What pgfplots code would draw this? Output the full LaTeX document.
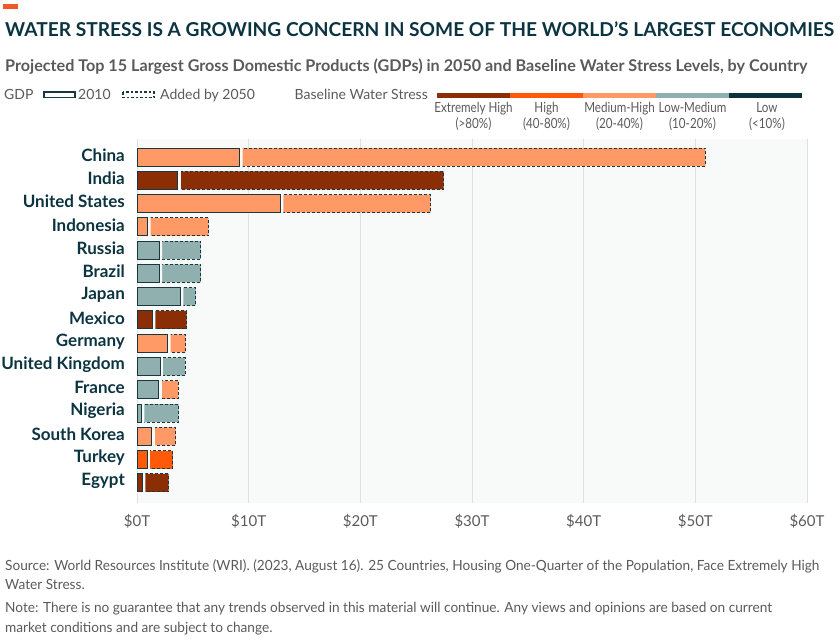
\documentclass[border=0pt]{standalone}
\usepackage{pgfplots}
\pgfplotsset{compat=1.18}
\usepackage{fontspec}
\setmainfont{Lato}
\definecolor{cEH}{HTML}{8B2E06}
\definecolor{cH}{HTML}{FF5A0A}
\definecolor{cMH}{HTML}{FF9966}
\definecolor{cLM}{HTML}{8FB0AE}
\definecolor{cL}{HTML}{0C323C}
\definecolor{outl}{HTML}{17383F}
\definecolor{bgc}{HTML}{F8FAFA}
\definecolor{titlec}{HTML}{0B3440}
\definecolor{greyt}{HTML}{5A5A5A}
\definecolor{orangec}{HTML}{F05A28}
\begin{document}
\begin{tikzpicture}[x=1pt,y=1pt]
\useasboundingbox (0,0) rectangle (840,-642);
\fill[orangec] (3,-4) rectangle (18,-9);
\node[anchor=base west, inner sep=0pt, text=titlec] at (5,-37) {\resizebox{829pt}{!}{\bfseries WATER STRESS IS A GROWING CONCERN IN SOME OF THE WORLD'S LARGEST ECONOMIES}};
\node[anchor=base west, inner sep=0pt, text=greyt] at (5,-72) {\resizebox{802pt}{!}{\bfseries Projected Top 15 Largest Gross Domestic Products (GDPs) in 2050 and Baseline Water Stress Levels, by Country}};
% legend GDP
\begin{scope}[every node/.style={inner sep=0pt, text=greyt, font=\fontsize{14}{16}\selectfont}]
\node[anchor=base west] at (4,-99) {GDP};
\draw[outl, line width=1.3pt] (44,-92) rectangle (75,-97.5);
\node[anchor=base west] at (78,-99) {2010};
\draw[outl, line width=1.1pt, dash pattern=on 2.5pt off 2pt] (123,-92) rectangle (154,-97.5);
\node[anchor=base west] at (160,-99) {Added by 2050};
\node[anchor=base east] at (428,-99) {Baseline Water Stress};
\end{scope}
\fill[cEH] (437,-92.7) rectangle (510,-97.7);
\fill[cH] (510,-92.7) rectangle (583,-97.7);
\fill[cMH] (583,-92.7) rectangle (656,-97.7);
\fill[cLM] (656,-92.7) rectangle (729,-97.7);
\fill[cL] (729,-92.7) rectangle (802,-97.7);
\begin{scope}[every node/.style={inner sep=0pt, text=greyt, font=\fontsize{14}{16}\selectfont}]
\node[anchor=base] at (473.5,-112) {\scalebox{0.83}[1]{Extremely High}};
\node[anchor=base] at (473.5,-128) {\scalebox{0.83}[1]{(>80\%)}};
\node[anchor=base] at (546.5,-112) {\scalebox{0.83}[1]{High}};
\node[anchor=base] at (546.5,-128) {\scalebox{0.83}[1]{(40-80\%)}};
\node[anchor=base] at (619.5,-112) {\scalebox{0.83}[1]{Medium-High}};
\node[anchor=base] at (619.5,-128) {\scalebox{0.83}[1]{(20-40\%)}};
\node[anchor=base] at (692.5,-112) {\scalebox{0.83}[1]{Low-Medium}};
\node[anchor=base] at (692.5,-128) {\scalebox{0.83}[1]{(10-20\%)}};
\node[anchor=base] at (767,-112) {\scalebox{0.83}[1]{Low}};
\node[anchor=base] at (767,-128) {\scalebox{0.83}[1]{(<10\%)}};
\end{scope}
\begin{axis}[
  at={(137pt,-503pt)}, anchor=south west,
  scale only axis, width=670pt, height=364pt,
  xmin=0, xmax=60, ymin=-0.86, ymax=14.773,
  clip=false,
  axis background/.style={fill=bgc},
  axis line style={draw=none},
  major tick length=0pt,
  xmajorgrids, grid style={draw=black!12, line width=0.9pt},
  xtick={0,10,20,30,40,50,60},
  xticklabels={\$0T,\$10T,\$20T,\$30T,\$40T,\$50T,\$60T},
  xticklabel style={font=\fontsize{15}{17}\selectfont, text=greyt, inner sep=0pt, anchor=north, yshift=-11pt},
  ytick={0,...,14},
  yticklabels={Egypt,Turkey,South Korea,Nigeria,France,United Kingdom,Germany,Mexico,Japan,Brazil,Russia,Indonesia,United States,India,China},
  yticklabel style={font=\fontsize{17}{19}\selectfont\bfseries, text=titlec, inner sep=0pt, anchor=east, xshift=-12pt, yshift=2pt},
  xbar, bar width=18pt, bar shift=0pt,
]
% totals (added by 2050), dashed outline
\addplot[fill=cMH, draw=outl, line width=1pt, dash pattern=on 3pt off 2pt] coordinates {(50.9,14) (26.3,12) (6.42,11) (4.36,6) (3.7,4) (3.46,2)};
\addplot[fill=cEH, draw=outl, line width=1pt, dash pattern=on 3pt off 2pt] coordinates {(27.45,13) (4.45,7) (2.84,0)};
\addplot[fill=cLM, draw=outl, line width=1pt, dash pattern=on 3pt off 2pt] coordinates {(5.71,10) (5.71,9) (5.25,8) (4.3,5) (3.73,3)};
\addplot[fill=cH, draw=outl, line width=1pt, dash pattern=on 3pt off 2pt] coordinates {(3.2,1)};
% gap
\addplot[fill=bgc, draw=none, bar width=20pt] coordinates {(9.47,14) (3.92,13) (13.11,12) (1.21,11) (2.25,10) (2.25,9) (4.15,8) (1.65,7) (3.0,6) (2.31,5) (2.22,4) (0.67,3) (1.59,2) (1.15,1) (0.76,0)};
% 2010 values, solid outline
\addplot[fill=cMH, draw=outl, line width=1pt] coordinates {(9.22,14) (12.86,12) (0.96,11) (2.75,6) (1.34,2)};
\addplot[fill=cEH, draw=outl, line width=1pt] coordinates {(3.67,13) (1.4,7) (0.51,0)};
\addplot[fill=cLM, draw=outl, line width=1pt] coordinates {(2.0,10) (2.0,9) (3.9,8) (2.06,5) (1.97,4) (0.42,3)};
\addplot[fill=cH, draw=outl, line width=1pt] coordinates {(0.9,1)};
\end{axis}
\begin{scope}[every node/.style={inner sep=0pt, text=greyt, anchor=base west, font=\fontsize{14}{16}\selectfont}]
\node at (5,-570) {\scalebox{0.975}[1]{Source: World Resources Institute (WRI). (2023, August 16). 25 Countries, Housing One-Quarter of the Population, Face Extremely High}};
\node at (5,-589) {\scalebox{0.975}[1]{Water Stress.}};
\node at (5,-612) {\scalebox{0.975}[1]{Note: There is no guarantee that any trends observed in this material will continue. Any views and opinions are based on current}};
\node at (5,-632) {\scalebox{0.975}[1]{market conditions and are subject to change.}};
\end{scope}
\end{tikzpicture}
\end{document}
